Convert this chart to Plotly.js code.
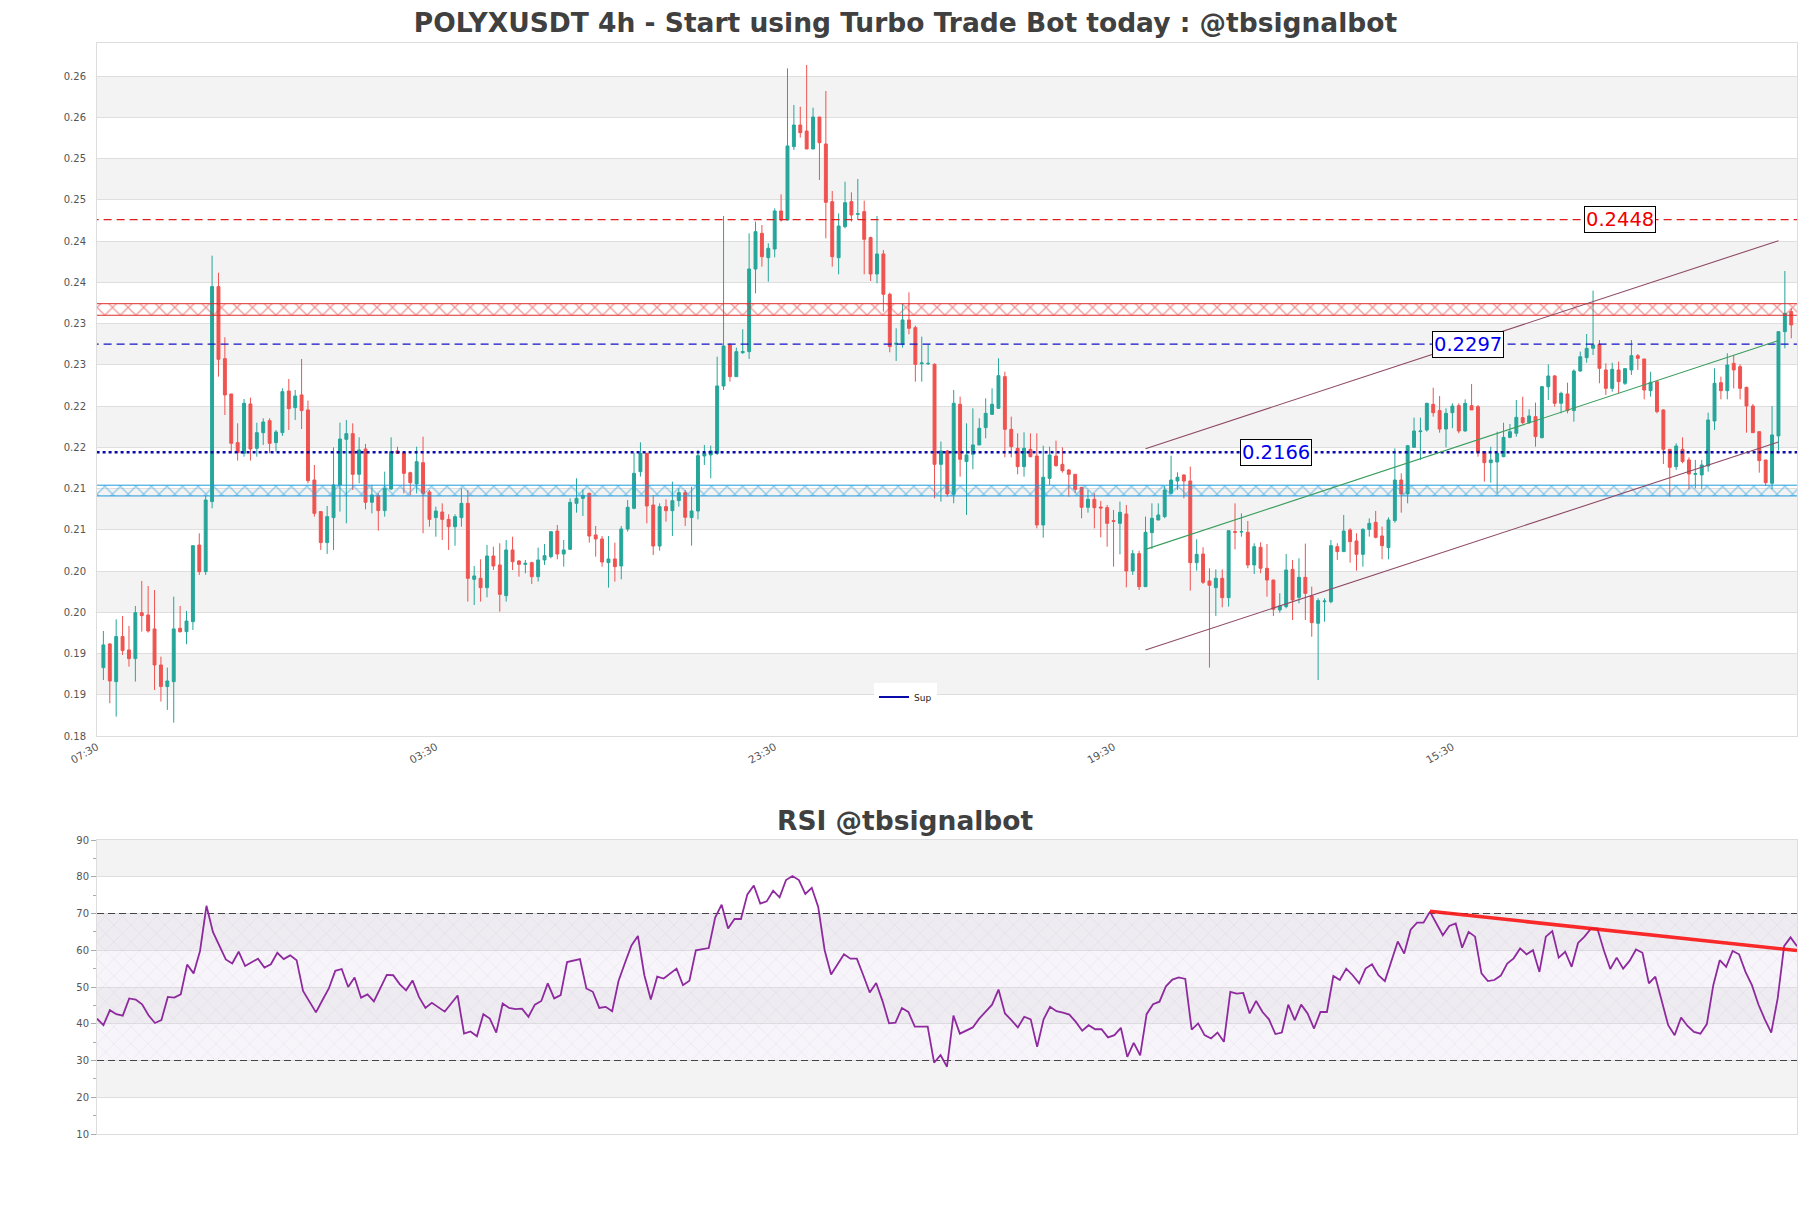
<!DOCTYPE html>
<html>
<head>
<meta charset="utf-8">
<script src="https://cdn.plot.ly/plotly-3.0.1.min.js"></script>
<style>
  body { margin: 0; background: #fff; }
  #plotArea { width: 1811px; height: 1208px; }
</style>
</head>
<body>
<div id="plotArea"></div>
<script>
// 4h candles (index 0 = first candle)
var opens = [0.19049,0.19336,0.18879,0.19425,0.19263,0.19158,0.19715,0.19687,0.19518,0.19081,
0.18819,0.18879,0.19526,0.19485,0.19606,0.20535,0.20212,0.21061,0.23667,0.22794,
0.22366,0.21776,0.21647,0.22245,0.21707,0.21897,0.22042,0.21776,0.21897,0.22402,
0.22200,0.22354,0.22172,0.21323,0.20940,0.20564,0.20867,0.21263,0.21816,0.21885,
0.21392,0.21699,0.21053,0.21134,0.20952,0.21214,0.21675,0.21654,0.21412,0.21275,
0.21533,0.21178,0.20867,0.20935,0.20846,0.20757,0.20867,0.21040,0.20119,0.20131,
0.20018,0.20402,0.20293,0.19921,0.20475,0.20341,0.20301,0.20321,0.20151,0.20354,
0.20394,0.20705,0.20426,0.20483,0.21040,0.21101,0.21161,0.20657,0.20608,0.20321,
0.20366,0.20281,0.20729,0.20980,0.21424,0.21646,0.21020,0.20523,0.21000,0.20951,
0.21073,0.21170,0.20867,0.20947,0.21614,0.21627,0.21647,0.22463,0.22960,0.22576,
0.22867,0.22879,0.23881,0.24313,0.24018,0.24123,0.24584,0.24475,0.25364,0.25626,
0.25553,0.25335,0.25723,0.25396,0.24697,0.24018,0.24394,0.24697,0.24543,0.24576,
0.24261,0.23820,0.24063,0.23574,0.22968,0.22968,0.23263,0.23170,0.22733,0.22733,
0.22725,0.21513,0.21675,0.21150,0.22241,0.21546,0.21635,0.21748,0.21958,0.22119,
0.22192,0.22576,0.21937,0.21707,0.21485,0.21695,0.21614,0.20778,0.21343,0.21614,
0.21513,0.21444,0.21392,0.21234,0.20992,0.21089,0.20996,0.20988,0.20830,0.20798,
0.20911,0.20220,0.20430,0.20030,0.20685,0.20838,0.20879,0.21162,0.21311,0.21384,
0.21311,0.20321,0.20426,0.20099,0.20018,0.20131,0.19897,0.20697,0.20693,0.20689,
0.20293,0.20507,0.20253,0.20111,0.19748,0.19788,0.20240,0.19901,0.20143,0.19917,
0.19586,0.19848,0.19848,0.20515,0.20455,0.20717,0.20584,0.20422,0.20725,0.20810,
0.20645,0.20503,0.20831,0.21323,0.21154,0.21719,0.21909,0.21929,0.22240,0.22164,
0.21941,0.22139,0.22224,0.21917,0.22224,0.22212,0.21667,0.21533,0.21541,0.21606,
0.21840,0.21889,0.22079,0.22018,0.22091,0.21836,0.22454,0.22584,0.22253,0.22366,
0.22164,0.22644,0.22806,0.22919,0.22968,0.22657,0.22434,0.22657,0.22495,0.22657,
0.22830,0.22790,0.22406,0.22515,0.22172,0.21695,0.21485,0.21695,0.21566,0.21392,
0.21384,0.21493,0.22038,0.22503,0.22406,0.22737,0.22697,0.22446,0.22220,0.21909,
0.21566,0.21283,0.21857,0.23121,0.23364];

var highs = [0.19493,0.19344,0.19635,0.19675,0.19554,0.19796,0.20099,0.20039,0.19990,0.19182,
0.19049,0.19909,0.19796,0.19736,0.20527,0.20677,0.21129,0.24042,0.23836,0.23053,
0.22366,0.22010,0.22305,0.22321,0.22018,0.22071,0.22071,0.21929,0.22434,0.22548,
0.22414,0.22790,0.22285,0.21505,0.20940,0.21008,0.21719,0.22018,0.22051,0.22010,
0.21841,0.21760,0.21263,0.21162,0.21424,0.21841,0.21727,0.21666,0.21424,0.21727,
0.21848,0.21202,0.21000,0.21040,0.20907,0.20907,0.21222,0.21202,0.20281,0.20362,
0.20535,0.20515,0.20556,0.20596,0.20636,0.20354,0.20354,0.20333,0.20503,0.20547,
0.20697,0.20778,0.20596,0.21101,0.21343,0.21210,0.21170,0.20766,0.20644,0.20644,
0.20564,0.20766,0.21081,0.21654,0.21780,0.21654,0.21141,0.21040,0.21089,0.21303,
0.21222,0.21202,0.21242,0.21687,0.21748,0.21740,0.22818,0.24523,0.22980,0.22927,
0.23150,0.24313,0.24454,0.24414,0.24192,0.24616,0.24786,0.26313,0.25869,0.25848,
0.26353,0.25836,0.25723,0.26038,0.24826,0.24555,0.24939,0.24810,0.24972,0.24709,
0.24273,0.24523,0.24111,0.23594,0.23162,0.23465,0.23598,0.23194,0.23061,0.22968,
0.22737,0.21788,0.21687,0.22414,0.22333,0.22010,0.22192,0.22071,0.22313,0.22434,
0.22798,0.22636,0.22091,0.21889,0.21901,0.21889,0.21889,0.21739,0.21727,0.21800,
0.21719,0.21457,0.21392,0.21234,0.21202,0.21162,0.21069,0.21020,0.20960,0.21061,
0.21020,0.20475,0.20467,0.20879,0.21040,0.21040,0.21250,0.21618,0.21416,0.21392,
0.21485,0.20604,0.20507,0.20253,0.20240,0.20240,0.20709,0.21040,0.20919,0.20826,
0.20556,0.20568,0.20548,0.20111,0.19950,0.20426,0.20354,0.20374,0.20552,0.20030,
0.19889,0.19889,0.20596,0.20556,0.20899,0.20738,0.20677,0.20738,0.20859,0.20948,
0.20758,0.20871,0.21707,0.21404,0.21748,0.22079,0.22079,0.22261,0.22442,0.22341,
0.22192,0.22252,0.22252,0.22301,0.22487,0.22232,0.21667,0.21727,0.21909,0.22018,
0.22002,0.22293,0.22333,0.22180,0.22261,0.22463,0.22725,0.22596,0.22394,0.22503,
0.22665,0.22879,0.23093,0.23618,0.23020,0.22737,0.22745,0.22758,0.22677,0.23020,
0.22850,0.22790,0.22636,0.22515,0.22180,0.21695,0.21768,0.21840,0.21598,0.21566,
0.21566,0.22139,0.22677,0.22576,0.22859,0.22838,0.22725,0.22454,0.22244,0.21909,
0.21566,0.22220,0.23121,0.23856,0.23404];

var lows = [0.18899,0.18617,0.18455,0.19202,0.19061,0.18879,0.19485,0.19473,0.18778,0.18637,
0.18536,0.18382,0.19473,0.19332,0.19505,0.20172,0.20172,0.20980,0.22576,0.22111,
0.21647,0.21558,0.21606,0.21558,0.21606,0.21748,0.21647,0.21667,0.21857,0.21929,
0.22051,0.21941,0.21283,0.20879,0.20475,0.20427,0.20475,0.20940,0.20798,0.21202,
0.21283,0.20968,0.20919,0.20709,0.20879,0.21202,0.21639,0.21161,0.21141,0.21161,
0.20677,0.20757,0.20636,0.20596,0.20475,0.20527,0.20757,0.19849,0.19808,0.19849,
0.19901,0.20232,0.19727,0.19849,0.20232,0.20151,0.20192,0.20063,0.20091,0.20293,
0.20374,0.20362,0.20273,0.20475,0.20927,0.20887,0.20564,0.20394,0.20273,0.20018,
0.20091,0.20119,0.20697,0.20968,0.21364,0.20798,0.20414,0.20467,0.20818,0.20644,
0.21000,0.20766,0.20527,0.20846,0.21505,0.21344,0.21627,0.22414,0.22515,0.22576,
0.22851,0.22790,0.23586,0.23909,0.23727,0.24022,0.24455,0.24467,0.25323,0.25473,
0.25335,0.25335,0.24959,0.24252,0.23909,0.23816,0.24374,0.24455,0.24475,0.23816,
0.23735,0.23707,0.23364,0.22871,0.22766,0.22927,0.23089,0.22515,0.22515,0.22717,
0.21101,0.21061,0.21121,0.21041,0.21364,0.20899,0.21453,0.21748,0.21829,0.22111,
0.22184,0.21598,0.21598,0.21392,0.21364,0.21598,0.20737,0.20624,0.21263,0.21485,
0.21412,0.21121,0.21162,0.20859,0.20927,0.20737,0.20628,0.20515,0.20273,0.20422,
0.20022,0.20172,0.19990,0.20030,0.20487,0.20838,0.20859,0.21154,0.21202,0.21101,
0.19982,0.20224,0.20063,0.19049,0.19675,0.19780,0.19788,0.20483,0.20636,0.20253,
0.20184,0.20192,0.19909,0.19675,0.19715,0.19768,0.19626,0.19828,0.19626,0.19424,
0.18899,0.19606,0.19828,0.20354,0.20455,0.20321,0.20224,0.20273,0.20637,0.20616,
0.20362,0.20362,0.20806,0.20927,0.21040,0.21719,0.21566,0.21909,0.22091,0.21897,
0.21719,0.21950,0.21889,0.21909,0.22172,0.21606,0.21303,0.21291,0.21162,0.21598,
0.21828,0.21849,0.22002,0.22002,0.21727,0.21828,0.22293,0.22212,0.22131,0.22131,
0.22030,0.22636,0.22745,0.22838,0.22495,0.22354,0.22394,0.22374,0.22475,0.22596,
0.22657,0.22301,0.22333,0.22131,0.21517,0.21121,0.21445,0.21525,0.21210,0.21222,
0.21210,0.21424,0.21929,0.22301,0.22301,0.22434,0.22301,0.21897,0.21897,0.21412,
0.21251,0.21210,0.21679,0.22919,0.23040];

var closes = [0.19324,0.18887,0.19425,0.19255,0.19158,0.19715,0.19679,0.19493,0.19081,0.18819,
0.18887,0.19518,0.19485,0.19614,0.20527,0.20212,0.21081,0.23667,0.22786,0.22354,
0.21768,0.21655,0.22253,0.21699,0.21897,0.22026,0.21768,0.21905,0.22394,0.22188,
0.22341,0.22164,0.21315,0.20919,0.20564,0.20879,0.21263,0.21820,0.21885,0.21392,
0.21687,0.21053,0.21142,0.20952,0.21222,0.21667,0.21647,0.21404,0.21291,0.21545,
0.21161,0.20846,0.20947,0.20846,0.20757,0.20879,0.21040,0.20131,0.20160,0.20018,
0.20402,0.20281,0.19937,0.20475,0.20333,0.20301,0.20313,0.20151,0.20354,0.20406,
0.20697,0.20426,0.20475,0.21052,0.21101,0.21137,0.20644,0.20608,0.20329,0.20366,
0.20273,0.20729,0.20992,0.21404,0.21646,0.21008,0.20523,0.21000,0.20951,0.21073,
0.21170,0.20871,0.20947,0.21618,0.21647,0.21675,0.22463,0.22948,0.22576,0.22879,
0.22879,0.23881,0.24333,0.24030,0.24131,0.24584,0.24475,0.25372,0.25626,0.25533,
0.25335,0.25723,0.25412,0.24689,0.24030,0.24402,0.24685,0.24535,0.24551,0.24240,
0.23820,0.24063,0.23574,0.22940,0.22980,0.23263,0.23162,0.22725,0.22742,0.22737,
0.21513,0.21675,0.21154,0.22253,0.21574,0.21627,0.21748,0.21950,0.22131,0.22241,
0.22588,0.21937,0.21727,0.21485,0.21707,0.21606,0.20778,0.21356,0.21626,0.21497,
0.21436,0.21392,0.21210,0.20992,0.21089,0.20988,0.20984,0.20798,0.20822,0.20931,
0.20220,0.20430,0.20030,0.20689,0.20859,0.20899,0.21202,0.21323,0.21356,0.21311,
0.20321,0.20422,0.20083,0.20047,0.20131,0.19897,0.20709,0.20689,0.20697,0.20293,
0.20515,0.20253,0.20111,0.19756,0.19796,0.20232,0.19869,0.20143,0.19949,0.19594,
0.19861,0.19856,0.20527,0.20455,0.20705,0.20576,0.20422,0.20725,0.20798,0.20628,
0.20527,0.20839,0.21323,0.21154,0.21739,0.21917,0.21917,0.22252,0.22139,0.21941,
0.22131,0.22220,0.21917,0.22252,0.22172,0.21659,0.21533,0.21566,0.21647,0.21840,
0.21909,0.22083,0.22018,0.22099,0.21849,0.22454,0.22584,0.22253,0.22374,0.22164,
0.22644,0.22818,0.22919,0.22960,0.22677,0.22434,0.22665,0.22515,0.22673,0.22830,
0.22798,0.22414,0.22507,0.22152,0.21695,0.21477,0.21735,0.21546,0.21396,0.21400,
0.21505,0.22051,0.22495,0.22406,0.22717,0.22657,0.22434,0.22220,0.21897,0.21558,
0.21291,0.21869,0.23121,0.23343,0.23202];

// RSI values, one per candle
var rsi = [41.4,39.6,43.7,42.6,42.2,46.9,46.6,45.3,42.3,40.2,
41.0,47.3,47.1,48.0,56.1,53.7,59.8,72.1,65.0,61.1,
57.5,56.4,59.6,55.7,56.8,57.7,55.3,56.2,59.3,57.6,
58.6,57.3,48.9,46.0,43.1,46.4,49.6,54.4,54.9,50.0,
52.6,47.1,48.0,46.1,49.6,53.3,53.2,50.8,49.1,51.8,
47.3,44.3,45.7,44.6,43.3,45.5,47.7,37.3,37.9,36.6,
42.6,41.4,37.6,45.5,44.3,44.0,44.1,41.9,45.2,46.2,
51.0,46.9,47.8,56.8,57.3,57.6,49.6,48.7,44.3,44.6,
43.4,51.7,56.6,61.3,63.9,53.2,46.6,52.8,52.3,53.7,
55.0,50.5,51.7,60.0,60.4,60.6,68.9,72.4,65.9,68.5,
68.5,75.2,77.6,72.7,73.3,76.2,74.4,79.1,80.2,79.1,
75.3,77.0,71.8,60.0,53.4,56.3,58.9,57.7,57.7,53.2,
48.5,51.1,46.1,40.1,40.3,44.3,43.2,39.2,39.2,39.2,
29.4,31.5,28.3,42.2,37.3,38.1,39.0,41.4,43.2,45.2,
49.3,42.8,41.0,39.0,41.9,41.2,33.7,41.2,44.6,43.4,
43.0,42.5,40.5,38.1,39.6,38.5,38.5,36.3,36.9,38.9,
31.0,34.8,31.4,42.6,45.3,46.0,50.2,52.0,52.6,52.2,
38.4,40.1,36.9,36.0,37.6,35.1,48.7,48.2,48.4,42.8,
46.2,43.2,41.2,37.2,37.6,45.2,41.0,45.2,42.8,38.7,
43.2,43.2,53.0,51.9,55.0,53.2,51.0,55.0,56.2,53.2,
51.6,56.8,62.4,59.1,65.6,67.5,67.5,70.5,67.5,64.1,
66.6,67.3,60.7,65.0,63.7,53.7,51.6,51.9,53.1,56.4,
57.8,60.5,58.9,60.0,54.1,63.7,65.2,58.0,59.6,55.5,
62.0,63.7,65.9,65.9,60.0,54.9,58.0,55.0,57.1,60.2,
59.3,51.0,52.8,46.4,39.6,36.9,41.7,39.4,37.8,37.3,
39.9,50.5,57.3,55.5,59.8,58.9,54.1,50.5,45.3,41.2,
37.6,46.9,61.1,63.5,61.1];

// tick labels
var xTickVals = [-1, 52, 105, 158, 211];
var xTickText = ["07:30", "03:30", "23:30", "19:30", "15:30"];
var yTickVals = [0.1822,0.1872,0.1922,0.1972,0.2022,0.2072,0.2122,0.2172,0.2222,0.2272,0.2322,0.2372,0.2422,0.2472,0.2522,0.2572,0.2622];
var yTickText = ["0.18","0.19","0.19","0.20","0.20","0.21","0.21","0.22","0.22","0.23","0.23","0.24","0.24","0.25","0.25","0.26","0.26"];

// levels and zones
var resLevel = 0.2448;
var midLevel = 0.2297;
var supLevel = 0.2166;
var redZone = [0.2332, 0.2346];
var blueZone = [0.2113, 0.2126];

// channel (start / end candle)
var channelX = [163, 262];
var channelUpper = [0.21703, 0.24224];
var channelLower = [0.19262, 0.21783];
var channelMid = [0.20482, 0.23013];

// rsi trend line
var rsiTrendX = [207, 264];
var rsiTrendY = [70.6, 59.9];

var idx = closes.map((c, i) => i);
var xEdge = [-2, 267];
var font = "DejaVu Sans";

function zoneTrace(z, color) {
    return {
        x: [xEdge[0], xEdge[1], xEdge[1], xEdge[0], xEdge[0]],
        y: [z[0], z[0], z[1], z[1], z[0]],
        mode: "lines", fill: "toself",
        line: {color: color, width: 1},
        fillcolor: "rgba(255,255,255,0)",
        fillpattern: {shape: "x", size: 11, solidity: 0.22, fgcolor: color, fillmode: "overlay"},
        hoverinfo: "skip", showlegend: false
    };
}

function hLine(level, color, dash, width) {
    return {
        x: xEdge, y: [level, level], mode: "lines",
        line: {color: color, width: width, dash: dash},
        hoverinfo: "skip", showlegend: false
    };
}

var traces = [
    zoneTrace(redZone, "rgb(225,45,45)"),
    zoneTrace(blueZone, "rgb(30,155,220)"),
    hLine(resLevel, "rgb(225,30,30)", "8px,5px", 1.3),
    hLine(midLevel, "rgb(20,20,200)", "8px,5px", 1.3),
    hLine(supLevel, "rgb(10,10,170)", "dot", 2.5),
    {
        type: "candlestick", x: idx,
        open: opens, high: highs, low: lows, close: closes,
        increasing: {line: {color: "#26a69a", width: 1}, fillcolor: "#26a69a"},
        decreasing: {line: {color: "#ef5350", width: 1}, fillcolor: "#ef5350"},
        whiskerwidth: 0, hoverinfo: "skip", showlegend: false
    },
    {x: channelX, y: channelUpper, mode: "lines", line: {color: "#8e4a66", width: 1.1}, showlegend: false, hoverinfo: "skip"},
    {x: channelX, y: channelLower, mode: "lines", line: {color: "#8e4a66", width: 1.1}, showlegend: false, hoverinfo: "skip"},
    {x: channelX, y: channelMid, mode: "lines", line: {color: "#3a9d5d", width: 1.1}, showlegend: false, hoverinfo: "skip"},
    // legend entry only
    {x: [null], y: [null], mode: "lines", name: "Sup", line: {color: "rgb(10,10,170)", width: 2}},

    // RSI panel
    {
        x: [0, 264, 264, 0, 0], y: [30, 30, 70, 70, 30],
        xaxis: "x2", yaxis: "y2", mode: "lines", fill: "toself",
        line: {width: 0}, fillcolor: "rgba(225,215,235,0.25)",
        fillpattern: {shape: "x", size: 12, solidity: 0.07, fgcolor: "rgba(170,135,190,0.55)", fillmode: "overlay"},
        hoverinfo: "skip", showlegend: false
    },
    {x: [0, 264], y: [70, 70], xaxis: "x2", yaxis: "y2", mode: "lines", line: {color: "#444", width: 1.2, dash: "7px,4px"}, showlegend: false, hoverinfo: "skip"},
    {x: [0, 264], y: [30, 30], xaxis: "x2", yaxis: "y2", mode: "lines", line: {color: "#444", width: 1.2, dash: "7px,4px"}, showlegend: false, hoverinfo: "skip"},
    {x: idx, y: rsi, xaxis: "x2", yaxis: "y2", mode: "lines", line: {color: "#8e2a9e", width: 1.8}, showlegend: false, hoverinfo: "skip"},
    {x: rsiTrendX, y: rsiTrendY, xaxis: "x2", yaxis: "y2", mode: "lines", line: {color: "rgba(250,20,20,0.9)", width: 3.5}, showlegend: false, hoverinfo: "skip"}
];

// alternating grey bands
var shapes = [];
for (var k = 1; k + 1 < yTickVals.length; k += 2) {
    shapes.push({type: "rect", xref: "x domain", yref: "y", x0: 0, x1: 1, y0: yTickVals[k], y1: yTickVals[k + 1],
        fillcolor: "#f3f3f3", line: {width: 0}, layer: "below"});
}
[[20, 30], [40, 50], [60, 70], [80, 90]].forEach(function(b) {
    shapes.push({type: "rect", xref: "x2 domain", yref: "y2", x0: 0, x1: 1, y0: b[0], y1: b[1],
        fillcolor: "#f3f3f3", line: {width: 0}, layer: "below"});
});

function tag(x, y, txt, color) {
    return {x: x, y: y, xref: "x", yref: "y", text: txt, showarrow: false,
        font: {family: font, size: 19.5, color: color},
        bgcolor: "#fff", bordercolor: "#000", borderwidth: 1, borderpad: 1};
}

var xDomain = [97 / 1811, 1797 / 1811];

var layout = {
    width: 1811, height: 1208,
    margin: {l: 0, r: 0, t: 0, b: 0},
    paper_bgcolor: "#fff", plot_bgcolor: "#fff",
    font: {family: font, color: "#444"},
    title: {text: "<b>POLYXUSDT 4h - Start using Turbo Trade Bot today : @tbsignalbot</b>",
        x: 0.5, xanchor: "center", y: 1 - 23 / 1208, yanchor: "middle",
        font: {family: font, size: 26.5, color: "#404040"}},
    boxgap: 0.35,
    showlegend: true,
    legend: {x: 0.5, y: 1 - 697 / 1208, xanchor: "center", yanchor: "middle",
        bgcolor: "#fff", font: {family: font, size: 9, color: "#222"}, itemwidth: 30},
    xaxis: {domain: xDomain, anchor: "y", range: [-1, 264.9],
        tickvals: xTickVals, ticktext: xTickText, tickangle: -30,
        tickfont: {size: 10.5, color: "#555"}, showgrid: false, zeroline: false,
        showline: true, mirror: true, linecolor: "#ddd", ticks: "", automargin: false,
        rangeslider: {visible: false}},
    yaxis: {domain: [1 - 736 / 1208, 1 - 43 / 1208], anchor: "x", range: [0.1822, 0.2662],
        tickvals: yTickVals, ticktext: yTickText, tickfont: {size: 10, color: "#555"},
        gridcolor: "#dedede", zeroline: false, showline: true, mirror: true, linecolor: "#ddd",
        ticks: "", ticklabelstandoff: 8, automargin: false},
    xaxis2: {domain: xDomain, anchor: "y2", range: [0, 264], showticklabels: false,
        showgrid: false, zeroline: false, showline: true, mirror: true, linecolor: "#ddd", ticks: ""},
    yaxis2: {domain: [1 - 1134 / 1208, 1 - 840 / 1208], anchor: "x2", range: [10, 90],
        tick0: 10, dtick: 10, tickfont: {size: 10, color: "#555"},
        ticks: "outside", ticklen: 5, tickcolor: "#aaa",
        minor: {dtick: 5, ticks: "outside", ticklen: 3, tickcolor: "#aaa", showgrid: false},
        gridcolor: "#dedede", zeroline: false, showline: true, mirror: true, linecolor: "#ddd",
        automargin: false},
    shapes: shapes,
    annotations: [
        tag(237.2, resLevel, "0.2448", "#ee0000"),
        tag(213.4, midLevel, "0.2297", "#0000ee"),
        tag(183.4, supLevel, "0.2166", "#0000ee"),
        {text: "<b>RSI @tbsignalbot</b>", xref: "paper", yref: "paper", x: 0.5, y: 1 - 820 / 1208,
            xanchor: "center", yanchor: "middle", showarrow: false,
            font: {family: font, size: 26.5, color: "#404040"}}
    ]
};

Plotly.newPlot("plotArea", traces, layout, {staticPlot: true});
</script>
</body>
</html>
